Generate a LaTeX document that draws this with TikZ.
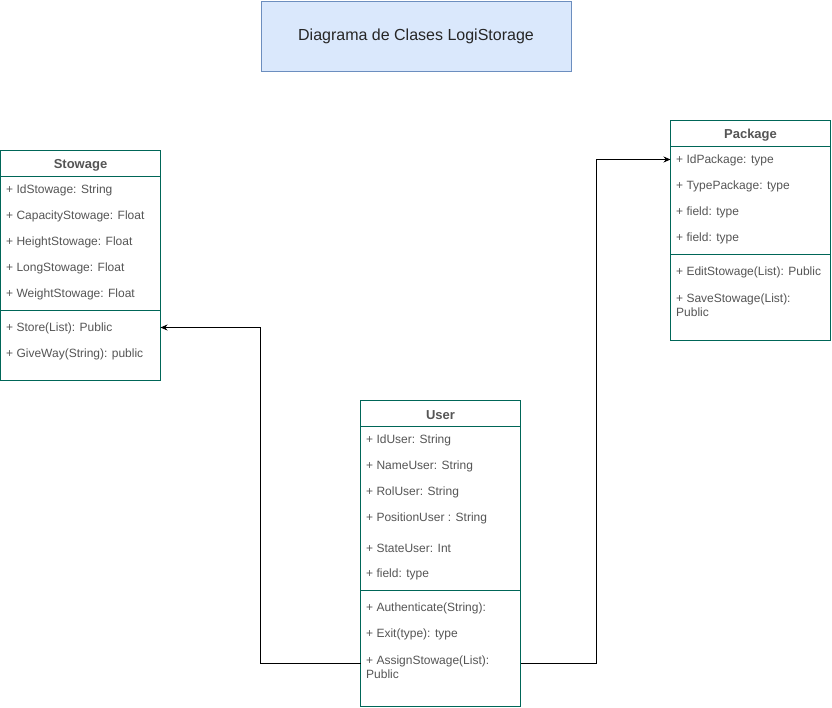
\documentclass[tikz,border=0pt]{standalone}
\usepackage{fontspec}
\setmainfont{Liberation Sans}
\usetikzlibrary{arrows.meta}
\definecolor{clsline}{HTML}{006658}
\definecolor{txt}{HTML}{555555}
\definecolor{titlefill}{HTML}{DAE8FC}
\definecolor{titleline}{HTML}{6C8EBF}
\begin{document}
\begin{tikzpicture}[x=1pt,y=-1pt,
  cls/.style={fill=white,anchor=north west,minimum width=160pt,inner sep=0pt},
  sep/.style={draw=clsline,line width=1pt},
  attr/.style={anchor=west,inner sep=0pt,text=txt,font=\fontsize{12}{14}\selectfont,align=left,yshift=-1.5pt},
  hdr/.style={inner sep=0pt,text=txt,font=\fontsize{13}{15}\selectfont\bfseries,yshift=-1.5pt},
  arr/.style={draw=black,line width=1pt,-{Stealth[length=7pt,width=6pt]}}]
\useasboundingbox (0,0) rectangle (832,707);
% title
\node[draw=titleline,fill=titlefill,line width=1pt,anchor=north west,minimum width=310pt,minimum height=70pt,inner sep=0pt,font=\fontsize{16}{18}\selectfont,text=black!85] (title) at (260.5,0.5) {Diagrama de Clases LogiStorage};

% Stowage
\node[cls,minimum height=230pt] (stow) at (0.5,150.5) {};
\draw[sep] (stow.north west) rectangle (stow.south east);
\draw[sep] (0.5,176.5) -- (160.5,176.5);
\draw[sep] (0.5,310.5) -- (160.5,310.5);
\node[hdr] (stowh) at (80.5,163.5) {Stowage};
\node[attr] (s1) at (6,189) {+ IdStowage: String};
\node[attr] (s2) at (6,215) {+ CapacityStowage: Float};
\node[attr] (s3) at (6,241) {+ HeightStowage: Float};
\node[attr] (s4) at (6,267) {+ LongStowage: Float};
\node[attr] (s5) at (6,293) {+ WeightStowage: Float};
\node[attr] (s6) at (6,327) {+ Store(List): Public};
\node[attr] (s7) at (6,353) {+ GiveWay(String): public};

% Package
\node[cls,minimum height=220pt] (pack) at (670.5,120.5) {};
\draw[sep] (pack.north west) rectangle (pack.south east);
\draw[sep] (670.5,146.5) -- (830.5,146.5);
\draw[sep] (670.5,254.5) -- (830.5,254.5);
\node[hdr] (packh) at (750.5,133.5) {Package};
\node[attr] (p1) at (676,159) {+ IdPackage: type};
\node[attr] (p2) at (676,185) {+ TypePackage: type};
\node[attr] (p3) at (676,211) {+ field: type};
\node[attr] (p4) at (676,237) {+ field: type};
\node[attr] (p5) at (676,271) {+ EditStowage(List): Public};
\node[attr] (p6) at (676,304) {+ SaveStowage(List):\\Public};

% User
\node[cls,minimum height=306pt] (user) at (360.5,400.5) {};
\draw[sep] (user.north west) rectangle (user.south east);
\draw[sep] (360.5,426.5) -- (520.5,426.5);
\draw[sep] (360.5,590.5) -- (520.5,590.5);
\node[hdr] (userh) at (440.5,413.5) {User};
\node[attr] (u1) at (366,439) {+ IdUser: String};
\node[attr] (u2) at (366,465) {+ NameUser: String};
\node[attr] (u3) at (366,491) {+ RolUser: String};
\node[attr] (u4) at (366,517) {+ PositionUser : String};
\node[attr] (u5) at (366,547) {+ StateUser: Int};
\node[attr] (u6) at (366,573) {+ field: type};
\node[attr] (u7) at (366,607) {+ Authenticate(String):};
\node[attr] (u8) at (366,633) {+ Exit(type): type};
\node[attr] (u9) at (366,666) {+ AssignStowage(List):\\Public};

% connectors
\coordinate (uL) at (360.5,663.5);
\coordinate (uR) at (520.5,663.5);
\coordinate (sIn) at (160.5,327.5);
\coordinate (pIn) at (670.5,159.5);
\draw[arr] (uL) -- (260.5,663.5) |- (sIn);
\draw[arr] (uR) -- (596.5,663.5) |- (pIn);
\end{tikzpicture}
\end{document}
